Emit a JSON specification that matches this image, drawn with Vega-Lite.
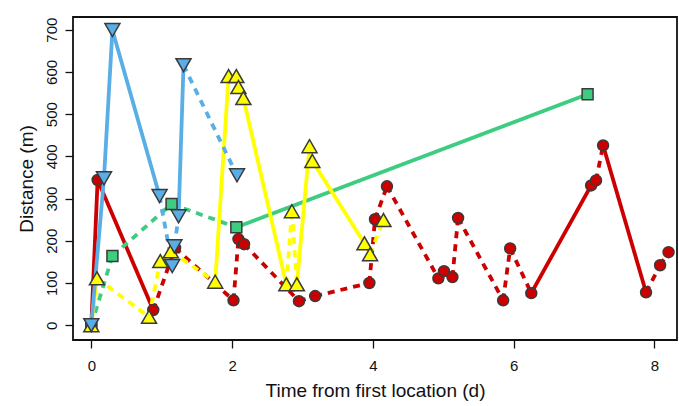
{
  "$schema": "https://vega.github.io/schema/vega-lite/v6.json",
  "width": 604,
  "height": 323,
  "autosize": {"type": "none"},
  "padding": {"left": 73, "top": 17, "right": 2, "bottom": 66},
  "background": "white",
  "config": {
    "view": {"stroke": "#111", "strokeWidth": 1.8},
    "font": "Liberation Sans",
    "axis": {
      "domain": false, "grid": false,
      "tickColor": "#111", "tickWidth": 1.3, "tickSize": 8,
      "labelColor": "#111", "labelFontSize": 15, "labelFont": "Liberation Sans",
      "titleFontSize": 19, "titleFontWeight": "normal", "titleColor": "#111", "titleFont": "Liberation Sans"
    }
  },
  "data": {
    "values": [
      {"animal": "A", "t": 0, "d": 0, "seg": "continuous"},
      {"animal": "A", "t": 0.09, "d": 344, "seg": "continuous"},
      {"animal": "A", "t": 0.88, "d": 36, "seg": "interrupted"},
      {"animal": "A", "t": 1.19, "d": 183, "seg": "interrupted"},
      {"animal": "A", "t": 2.02, "d": 59, "seg": "interrupted"},
      {"animal": "A", "t": 2.09, "d": 204, "seg": "interrupted"},
      {"animal": "A", "t": 2.17, "d": 192, "seg": "interrupted"},
      {"animal": "A", "t": 2.95, "d": 57, "seg": "interrupted"},
      {"animal": "A", "t": 3.18, "d": 69, "seg": "interrupted"},
      {"animal": "A", "t": 3.95, "d": 100, "seg": "interrupted"},
      {"animal": "A", "t": 4.03, "d": 251, "seg": "interrupted"},
      {"animal": "A", "t": 4.2, "d": 329, "seg": "interrupted"},
      {"animal": "A", "t": 4.93, "d": 111, "seg": "interrupted"},
      {"animal": "A", "t": 5.01, "d": 128, "seg": "interrupted"},
      {"animal": "A", "t": 5.13, "d": 114, "seg": "interrupted"},
      {"animal": "A", "t": 5.21, "d": 254, "seg": "interrupted"},
      {"animal": "A", "t": 5.85, "d": 59, "seg": "interrupted"},
      {"animal": "A", "t": 5.95, "d": 182, "seg": "interrupted"},
      {"animal": "A", "t": 6.25, "d": 76, "seg": "continuous"},
      {"animal": "A", "t": 7.1, "d": 331, "seg": "continuous"},
      {"animal": "A", "t": 7.17, "d": 343, "seg": "interrupted"},
      {"animal": "A", "t": 7.27, "d": 426, "seg": "continuous"},
      {"animal": "A", "t": 7.88, "d": 78, "seg": "interrupted"},
      {"animal": "A", "t": 8.08, "d": 142, "seg": "interrupted"},
      {"animal": "A", "t": 8.2, "d": 173, "seg": "interrupted"},
      {"animal": "B", "t": 0, "d": 0, "seg": "interrupted"},
      {"animal": "B", "t": 0.3, "d": 164, "seg": "interrupted"},
      {"animal": "B", "t": 1.14, "d": 287, "seg": "interrupted"},
      {"animal": "B", "t": 2.06, "d": 232, "seg": "continuous"},
      {"animal": "B", "t": 7.05, "d": 547, "seg": "continuous"},
      {"animal": "C", "t": 0, "d": 0, "seg": "continuous"},
      {"animal": "C", "t": 0.08, "d": 111, "seg": "interrupted"},
      {"animal": "C", "t": 0.82, "d": 20, "seg": "interrupted"},
      {"animal": "C", "t": 0.98, "d": 152, "seg": "interrupted"},
      {"animal": "C", "t": 1.13, "d": 175, "seg": "interrupted"},
      {"animal": "C", "t": 1.76, "d": 103, "seg": "continuous"},
      {"animal": "C", "t": 1.95, "d": 590, "seg": "continuous"},
      {"animal": "C", "t": 2.06, "d": 590, "seg": "continuous"},
      {"animal": "C", "t": 2.09, "d": 564, "seg": "continuous"},
      {"animal": "C", "t": 2.16, "d": 538, "seg": "continuous"},
      {"animal": "C", "t": 2.77, "d": 97, "seg": "interrupted"},
      {"animal": "C", "t": 2.85, "d": 270, "seg": "interrupted"},
      {"animal": "C", "t": 2.92, "d": 97, "seg": "continuous"},
      {"animal": "C", "t": 3.1, "d": 424, "seg": "continuous"},
      {"animal": "C", "t": 3.14, "d": 389, "seg": "continuous"},
      {"animal": "C", "t": 3.88, "d": 194, "seg": "continuous"},
      {"animal": "C", "t": 3.96, "d": 168, "seg": "interrupted"},
      {"animal": "C", "t": 4.15, "d": 249, "seg": "interrupted"},
      {"animal": "D", "t": 0, "d": 0, "seg": "continuous"},
      {"animal": "D", "t": 0.18, "d": 348, "seg": "continuous"},
      {"animal": "D", "t": 0.3, "d": 699, "seg": "continuous"},
      {"animal": "D", "t": 0.97, "d": 306, "seg": "interrupted"},
      {"animal": "D", "t": 1.15, "d": 140, "seg": "interrupted"},
      {"animal": "D", "t": 1.18, "d": 187, "seg": "interrupted"},
      {"animal": "D", "t": 1.24, "d": 258, "seg": "continuous"},
      {"animal": "D", "t": 1.31, "d": 616, "seg": "interrupted"},
      {"animal": "D", "t": 2.07, "d": 355, "seg": "interrupted"}
    ]
  },
  "encoding": {
    "x": {
      "field": "t", "type": "quantitative",
      "scale": {"domain": [-0.26, 8.32], "nice": false, "zero": false},
      "axis": {"values": [0, 2, 4, 6, 8], "title": "Time from first location (d)", "labelPadding": 10, "titlePadding": 8}
    },
    "y": {
      "field": "d", "type": "quantitative",
      "scale": {"domain": [-35, 730], "nice": false, "zero": false},
      "axis": {"values": [0, 100, 200, 300, 400, 500, 600, 700], "title": "Distance (m)", "labelAngle": -90, "labelAlign": "center", "labelBaseline": "bottom", "labelPadding": 6, "titlePadding": 8}
    }
  },
  "layer": [
    {
      "transform": [
        {"window": [{"op": "lead", "field": "t", "as": "t2"}, {"op": "lead", "field": "d", "as": "d2"}], "groupby": ["animal"], "sort": [{"field": "t", "order": "ascending"}]},
        {"filter": "datum.t2 != null"}
      ],
      "mark": {"type": "rule", "strokeWidth": 3.8, "strokeCap": "butt"},
      "encoding": {
        "x2": {"field": "t2"},
        "y2": {"field": "d2"},
        "color": {"field": "animal", "type": "nominal", "scale": {"domain": ["A", "B", "C", "D"], "range": ["#CC0000", "#3DCC80", "#FFFF00", "#5AAEE6"]}, "legend": null},
        "strokeDash": {"field": "seg", "type": "nominal", "scale": {"domain": ["continuous", "interrupted"], "range": [[1, 0], [7, 6]]}, "legend": null}
      }
    },
    {
      "mark": {"type": "point", "filled": true, "stroke": "#3a3a3a", "strokeWidth": 1.5, "opacity": 1},
      "encoding": {
        "fill": {"field": "animal", "type": "nominal", "scale": {"domain": ["A", "B", "C", "D"], "range": ["#CC0000", "#3DCC80", "#FFFF00", "#5AAEE6"]}, "legend": null},
        "shape": {"field": "animal", "type": "nominal", "scale": {"domain": ["A", "B", "C", "D"], "range": ["circle", "square", "triangle-up", "triangle-down"]}, "legend": null},
        "size": {"field": "animal", "type": "ordinal", "scale": {"type": "ordinal", "domain": ["A", "B", "C", "D"], "range": [120, 120, 225, 225]}, "legend": null}
      }
    }
  ]
}
